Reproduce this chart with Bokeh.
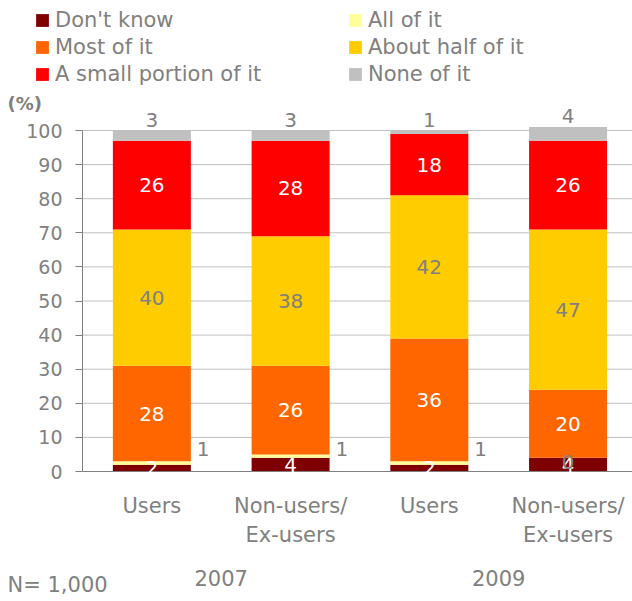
from bokeh.plotting import figure
from bokeh.models import (ColumnDataSource, Range1d, FixedTicker, LinearAxis, Legend, LegendItem,
                          LabelSet, Label)
from bokeh.core.properties import value
from bokeh.embed import file_html
from bokeh.resources import INLINE

# ---- data ----
categories = ["Users", "Non-users/\nEx-users", "Users", "Non-users/\nEx-users"]
years = ["2007", "2009"]
series_names = ["Don't know", "All of it", "Most of it", "About half of it",
                "A small portion of it", "None of it"]
dont_know = [2, 4, 2, 4]
all_of_it = [1, 1, 1, 0]
most_of_it = [28, 26, 36, 20]
about_half = [40, 38, 42, 47]
small_portion = [26, 28, 18, 26]
none_of_it = [3, 3, 1, 4]
sample_note = "N= 1,000"
unit_note = "(%)"

colors = ["#7F0000", "#FFFF99", "#FF6600", "#FFCC00", "#FF0000", "#C0C0C0"]
label_colors = ["white", "#808080", "white", "#808080", "white", "#808080"]
GRAY = "#808080"
FONT = "DejaVu Sans"

series = [dont_know, all_of_it, most_of_it, about_half, small_portion, none_of_it]
xs = list(range(len(categories)))

# ---- geometry (canvas px) ----
W, H = 632, 600
FRAME_L, FRAME_R = 82, 630
X0, X1 = -0.5, 3.45
Y_ZERO, Y_HUND = 471, 130
px_x = (FRAME_R - FRAME_L) / (X1 - X0)
px_y = (Y_ZERO - Y_HUND) / 100.0


def xd(px):
    return X0 + (px - FRAME_L) / px_x


def yd(py):
    return (Y_ZERO - py) / px_y


p = figure(width=W, height=H, x_range=Range1d(xd(0), xd(W)), y_range=Range1d(yd(H), yd(0)),
           output_backend="svg", toolbar_location=None,
           min_border=0, min_border_left=0, min_border_right=0,
           min_border_top=0, min_border_bottom=0,
           x_axis_location=None, y_axis_location=None)
p.outline_line_color = None
p.background_fill_color = "white"
p.border_fill_color = "white"
p.xgrid.visible = False
p.ygrid.visible = False

yticks = list(range(0, 101, 10))

# gridlines (behind bars)
p.segment(x0=[X0] * (len(yticks) - 1), x1=[xd(W)] * (len(yticks) - 1),
          y0=yticks[1:], y1=yticks[1:], line_color="#C0C0C0", line_width=1)

# bars
bottoms = [0] * len(xs)
renderers = []
seg_info = []
for name, vals, col in zip(series_names, series, colors):
    tops = [b + v for b, v in zip(bottoms, vals)]
    src = ColumnDataSource(dict(x=xs, bottom=bottoms, top=tops, v=vals))
    r = p.vbar(x="x", bottom="bottom", top="top", width=78 / px_x, source=src,
               fill_color=col, line_color=None)
    renderers.append(r)
    seg_info.append((list(bottoms), tops, vals))
    bottoms = tops

# y axis
yax = LinearAxis(ticker=FixedTicker(ticks=yticks), fixed_location=X0, bounds=(0, 100))
yax.axis_line_color = GRAY
yax.major_tick_line_color = GRAY
yax.major_tick_out = 7
yax.major_tick_in = 0
yax.minor_tick_line_color = None
yax.major_label_text_font = FONT
yax.major_label_text_font_size = "19px"
yax.major_label_text_color = GRAY
yax.major_label_standoff = 13
p.add_layout(yax, "left")

# category axis
xax = LinearAxis(ticker=FixedTicker(ticks=xs), fixed_location=0, bounds=(X0, xd(W)),
                 major_label_overrides={i: c for i, c in zip(xs, categories)})
xax.axis_line_color = GRAY
xax.major_tick_line_color = None
xax.major_tick_out = 0
xax.minor_tick_line_color = None
xax.major_label_text_font = FONT
xax.major_label_text_font_size = "21px"
xax.major_label_text_color = GRAY
xax.major_label_text_line_height = 1.22
xax.major_label_standoff = 22
p.add_layout(xax, "below")

# year axis
yr_pos = [0.5, 2.5]
yrax = LinearAxis(ticker=FixedTicker(ticks=yr_pos), fixed_location=0,
                  major_label_overrides={k: v for k, v in zip(yr_pos, years)})
yrax.axis_line_color = None
yrax.major_tick_line_color = None
yrax.minor_tick_line_color = None
yrax.major_label_text_font = FONT
yrax.major_label_text_font_size = "21px"
yrax.major_label_text_color = GRAY
yrax.major_label_standoff = 92
p.add_layout(yrax, "below")


# value labels
def add_labels(xv, yv, texts, color, align="center"):
    src = ColumnDataSource(dict(x=xv, y=yv, t=[str(t) for t in texts]))
    ls = LabelSet(x="x", y="y", text="t", source=src, text_align=align,
                  text_baseline="middle", text_color=color, text_font=value(FONT),
                  text_font_size="20px")
    p.add_layout(ls)


b, t, v = seg_info[0]
add_labels(xs, [(bb + tt) / 2 for bb, tt in zip(b, t)], v, label_colors[0])
b, t, v = seg_info[1]
out_x = [x + 0.28 + 6 / px_x for x, vv in zip(xs, v) if vv > 0]
out_v = [vv for vv in v if vv > 0]
add_labels(out_x, [yd(448)] * len(out_x), out_v, label_colors[1], align="left")
zero_x = [x for x, vv in zip(xs, v) if vv == 0]
zero_v = [vv for vv in v if vv == 0]
if zero_x:
    add_labels(zero_x, [yd(461)] * len(zero_x), zero_v, label_colors[1])
for k in (2, 3, 4):
    b, t, v = seg_info[k]
    add_labels(xs, [(bb + tt) / 2 for bb, tt in zip(b, t)], v, label_colors[k])
b, t, v = seg_info[5]
add_labels(xs, [tt + 11 / px_y for tt in t], v, label_colors[5])

# legend
legend = Legend(items=[LegendItem(label=n, renderers=[r]) for n, r in zip(series_names, renderers)],
                orientation="horizontal", ncols=2)
legend.glyph_width = 16
legend.glyph_height = 16
legend.label_standoff = 5
legend.spacing = 2
legend.label_width = 290
legend.label_height = 25
legend.label_text_font = FONT
legend.label_text_font_size = "21px"
legend.label_text_color = GRAY
legend.padding = 0
legend.margin = 0
legend.border_line_color = None
legend.background_fill_alpha = 0
legend.location = (34, H - 86)
p.add_layout(legend, "center")

# (%) and N
p.add_layout(Label(x=xd(7), y=yd(103), text=unit_note, text_font=FONT, text_font_style="bold",
                   text_font_size="18px", text_color=GRAY, text_baseline="middle"))
p.add_layout(Label(x=xd(7), y=yd(584), text=sample_note, text_font=FONT,
                   text_font_size="21px", text_color=GRAY, text_baseline="middle"))

open("out.html", "w").write(file_html(p, INLINE))
